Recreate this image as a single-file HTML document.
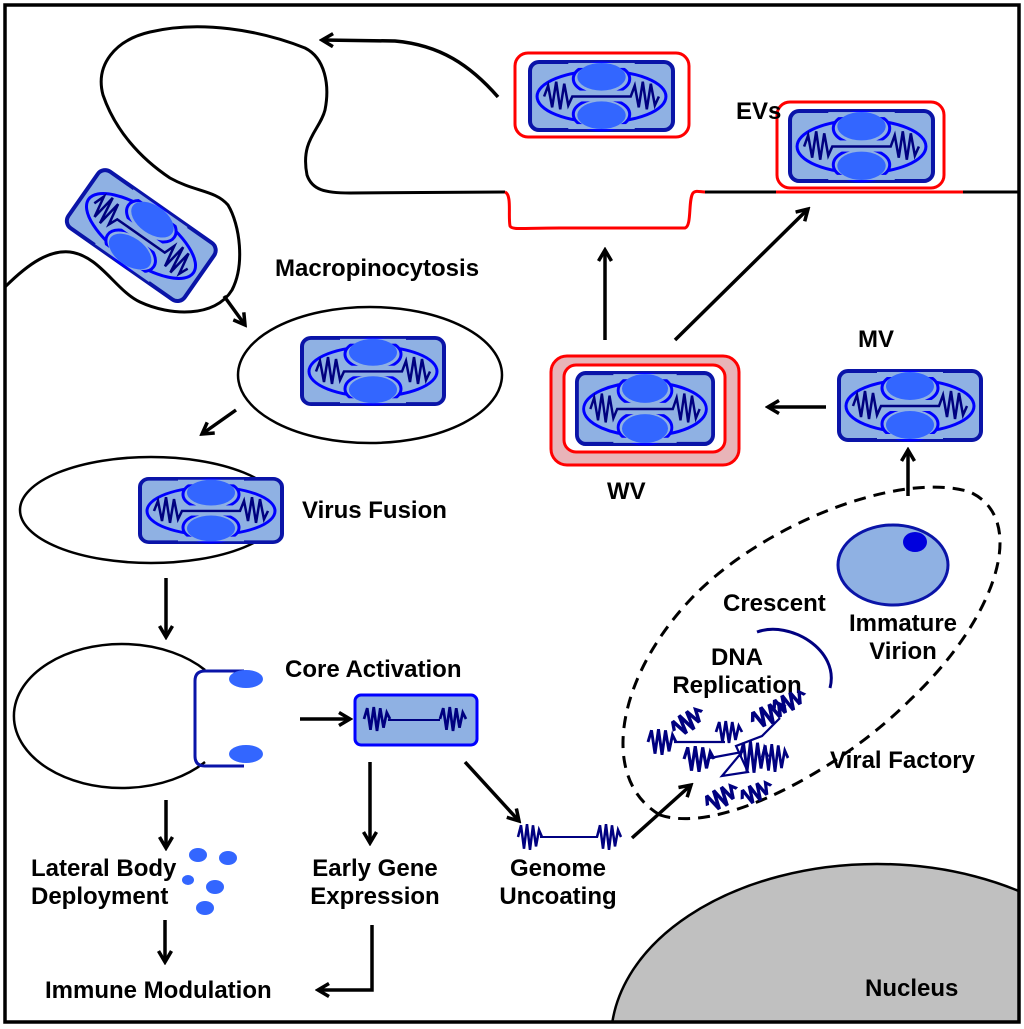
<!DOCTYPE html>
<html><head><meta charset="utf-8"><style>
html,body{margin:0;padding:0;background:#fff;overflow:hidden;width:1024px;height:1029px}
svg{display:block;overflow:hidden;max-height:1029px}
text{font-family:"Liberation Sans",Arial,sans-serif;font-weight:bold;font-size:24px;fill:#000}
</style></head><body>
<svg width="1024" height="1029" viewBox="0 0 1024 1029" xmlns="http://www.w3.org/2000/svg">
<defs>
<marker id="ah" viewBox="0 0 16 16" refX="13" refY="8" markerWidth="16" markerHeight="16" markerUnits="userSpaceOnUse" orient="auto">
<path d="M2,1.5 L13,8 L2,14.5" fill="none" stroke="#000" stroke-width="3.5"/>
</marker>
<clipPath id="fr"><rect x="5" y="5" width="1014" height="1017"/></clipPath>
<symbol id="v" viewBox="0 0 146 73" preserveAspectRatio="none" overflow="visible">
<rect x="2" y="2" width="142" height="69" rx="9" fill="#8fb1e3" stroke="#0a14a8" stroke-width="4"/>
<ellipse cx="73" cy="37" rx="64" ry="26" fill="none" stroke="#0000ff" stroke-width="3"/>
<ellipse cx="73" cy="19" rx="28" ry="16" fill="#8fb1e3" stroke="#0000ff" stroke-width="3"/>
<ellipse cx="73" cy="55" rx="28" ry="16" fill="#8fb1e3" stroke="#0000ff" stroke-width="3"/>
<rect x="38" y="31" width="70" height="11" fill="#8fb1e3"/>
<rect x="40" y="3" width="66" height="5" fill="#8fb1e3"/>
<rect x="40" y="65" width="66" height="5" fill="#8fb1e3"/>
<ellipse cx="73" cy="17" rx="24" ry="14" fill="#3366ff"/>
<ellipse cx="73" cy="56" rx="24" ry="14" fill="#3366ff"/>
<path d="M16,37 L20,26 L24,48 L28,22 L32,50 L36,24 L40,46 L44,37 L102,37 L106,26 L110,48 L114,22 L118,50 L122,24 L126,46 L130,37" fill="none" stroke="#000080" stroke-width="2.5"/>
</symbol>
<symbol id="z" viewBox="0 0 24 24" preserveAspectRatio="none" overflow="visible">
<path d="M0,12 L3,2 L6,22 L9,1 L12,23 L15,2 L18,20 L21,6 L24,12" fill="none" stroke="#000080" stroke-width="2.5"/>
</symbol>
</defs>

<g clip-path="url(#fr)">
<ellipse cx="877" cy="1040" rx="266" ry="176" fill="#c0c0c0" stroke="#000" stroke-width="2.5"/>
</g>
<rect x="5" y="5" width="1014" height="1017" fill="none" stroke="#000" stroke-width="3.5"/>
<text x="865" y="996">Nucleus</text>

<path d="M5,287 C30,262 50,250 70,252 C100,256 115,290 140,302 C170,316 215,318 232,290 C245,265 240,225 228,205 C215,190 195,192 170,178 C140,158 115,130 103,95 C95,65 115,40 150,32 C200,20 260,30 305,48 C325,58 330,85 325,110 C320,130 300,140 307,175 C312,190 325,193 350,193 L505,192" fill="none" stroke="#000" stroke-width="3"/>
<path d="M505,192 C512,195 508,215 510,226 C512,230 520,228 560,228 L685,228 C692,226 688,200 693,193 C696,190 700,192 705,192" fill="none" stroke="#f00" stroke-width="3"/>
<line x1="705" y1="192" x2="776" y2="192" stroke="#000" stroke-width="3"/>
<line x1="776" y1="192" x2="963" y2="192" stroke="#f00" stroke-width="3"/>
<line x1="963" y1="192" x2="1019" y2="192" stroke="#000" stroke-width="3"/>

<rect x="515" y="53" width="174" height="84" rx="13" fill="#fff" stroke="#f00" stroke-width="3"/>
<use href="#v" x="528" y="60" width="147" height="72"/>
<rect x="777" y="102" width="167" height="86" rx="13" fill="#fff" stroke="#f00" stroke-width="3"/>
<use href="#v" x="788" y="109" width="147" height="74"/>
<text x="736" y="119">EVs</text>
<path d="M498,97 C470,65 440,45 395,41 L322,40" fill="none" stroke="#000" stroke-width="3.5" marker-end="url(#ah)"/>

<g transform="translate(141,236) rotate(35)"><use href="#v" x="-73" y="-37" width="146" height="73"/></g>

<text x="275" y="276">Macropinocytosis</text>
<line x1="224" y1="296" x2="245" y2="325" stroke="#000" stroke-width="3.5" marker-end="url(#ah)"/>
<ellipse cx="370" cy="375" rx="132" ry="68" fill="#fff" stroke="#000" stroke-width="2.5"/>
<use href="#v" x="300" y="336" width="146" height="70"/>

<line x1="236" y1="410" x2="202" y2="434" stroke="#000" stroke-width="3.5" marker-end="url(#ah)"/>
<ellipse cx="151" cy="510" rx="131" ry="53" fill="#fff" stroke="#000" stroke-width="2.5"/>
<use href="#v" x="138" y="477" width="146" height="67"/>
<text x="302" y="518">Virus Fusion</text>

<line x1="166" y1="578" x2="166" y2="637" stroke="#000" stroke-width="3.5" marker-end="url(#ah)"/>
<path d="M205,670 A108,72 0 1 0 205,762" fill="none" stroke="#000" stroke-width="2.5"/>
<path d="M244,671 L205,671 Q195,671 195,681 L195,756 Q195,766 205,766 L244,766" fill="none" stroke="#0a14a8" stroke-width="3"/>
<ellipse cx="246" cy="679" rx="17" ry="9" fill="#3366ff"/>
<ellipse cx="246" cy="754" rx="17" ry="9" fill="#3366ff"/>
<text x="285" y="677">Core Activation</text>
<line x1="300" y1="719" x2="350" y2="719" stroke="#000" stroke-width="3.5" marker-end="url(#ah)"/>
<rect x="355" y="695" width="122" height="50" rx="6" fill="#8fb1e3" stroke="#0000ff" stroke-width="3"/>
<use href="#z" x="364" y="706" width="26" height="26"/>
<line x1="388" y1="720" x2="440" y2="720" stroke="#000080" stroke-width="2"/>
<use href="#z" x="440" y="706" width="26" height="26"/>

<line x1="166" y1="800" x2="166" y2="848" stroke="#000" stroke-width="3.5" marker-end="url(#ah)"/>
<line x1="370" y1="762" x2="370" y2="843" stroke="#000" stroke-width="3.5" marker-end="url(#ah)"/>
<line x1="465" y1="762" x2="519" y2="821" stroke="#000" stroke-width="3.5" marker-end="url(#ah)"/>

<ellipse cx="198" cy="855" rx="9" ry="7" fill="#3366ff"/>
<ellipse cx="228" cy="858" rx="9" ry="7" fill="#3366ff"/>
<ellipse cx="188" cy="880" rx="6" ry="5" fill="#3366ff"/>
<ellipse cx="215" cy="887" rx="9" ry="7" fill="#3366ff"/>
<ellipse cx="205" cy="908" rx="9" ry="7" fill="#3366ff"/>

<text x="31" y="876">Lateral Body</text>
<text x="31" y="904">Deployment</text>
<text x="375" y="876" text-anchor="middle">Early Gene</text>
<text x="375" y="904" text-anchor="middle">Expression</text>
<text x="558" y="876" text-anchor="middle">Genome</text>
<text x="558" y="904" text-anchor="middle">Uncoating</text>

<use href="#z" x="518" y="823" width="24" height="28"/>
<line x1="540" y1="837" x2="598" y2="837" stroke="#000080" stroke-width="2"/>
<use href="#z" x="597" y="823" width="24" height="28"/>

<line x1="165" y1="920" x2="165" y2="962" stroke="#000" stroke-width="3.5" marker-end="url(#ah)"/>
<text x="45" y="998">Immune Modulation</text>
<path d="M372,925 L372,990 L318,990" fill="none" stroke="#000" stroke-width="3.5" marker-end="url(#ah)"/>

<path d="M660,815 C600,780 615,680 690,600 C760,525 900,470 970,492 C1030,520 995,620 910,700 C840,770 720,835 660,815 Z" fill="none" stroke="#000" stroke-width="3" stroke-dasharray="12,8"/>
<line x1="632" y1="838" x2="691" y2="785" stroke="#000" stroke-width="3.5" marker-end="url(#ah)"/>
<text x="723" y="611">Crescent</text>
<path d="M757,632 C790,620 840,650 830,688" fill="none" stroke="#000080" stroke-width="3"/>
<text x="737" y="665" text-anchor="middle">DNA</text>
<text x="737" y="693" text-anchor="middle">Replication</text>
<text x="830" y="768">Viral Factory</text>
<ellipse cx="893" cy="565" rx="55" ry="40" fill="#8fb1e3" stroke="#0a14a8" stroke-width="3"/>
<ellipse cx="915" cy="542" rx="12" ry="10" fill="#0000dd"/>
<text x="903" y="631" text-anchor="middle">Immature</text>
<text x="903" y="659" text-anchor="middle">Virion</text>

<g stroke="#000080" stroke-width="2.2" fill="none">
<use href="#z" x="648" y="728" width="28" height="28"/>
<line x1="674" y1="742" x2="725" y2="742"/>
<g transform="translate(668,722) rotate(-35)"><use href="#z" x="0" y="0" width="34" height="22"/></g>
<use href="#z" x="684" y="745" width="30" height="28"/>
<path d="M710,758 L742,752 L722,776 L748,772 L736,746 L762,736 L780,718"/>
<g transform="translate(748,712) rotate(-25)"><use href="#z" x="0" y="0" width="36" height="22"/></g>
<g transform="translate(770,700) rotate(-25)"><use href="#z" x="0" y="0" width="34" height="20"/></g>
<use href="#z" x="740" y="740" width="28" height="34"/>
<use href="#z" x="762" y="743" width="26" height="30"/>
<g transform="translate(702,796) rotate(-30)"><use href="#z" x="0" y="0" width="34" height="22"/></g>
<g transform="translate(738,790) rotate(-25)"><use href="#z" x="0" y="0" width="32" height="20"/></g>
<use href="#z" x="716" y="720" width="26" height="24"/>
</g>

<line x1="908" y1="496" x2="908" y2="450" stroke="#000" stroke-width="3.5" marker-end="url(#ah)"/>
<text x="858" y="347">MV</text>
<use href="#v" x="837" y="369" width="146" height="73"/>
<line x1="826" y1="407" x2="768" y2="407" stroke="#000" stroke-width="3.5" marker-end="url(#ah)"/>
<rect x="551" y="356" width="188" height="109" rx="16" fill="#e8b4b8" stroke="#f00" stroke-width="3"/>
<rect x="564" y="365" width="161" height="87" rx="12" fill="#fff" stroke="#f00" stroke-width="3"/>
<use href="#v" x="575" y="371" width="140" height="75"/>
<text x="607" y="499">WV</text>
<line x1="605" y1="340" x2="605" y2="250" stroke="#000" stroke-width="3.5" marker-end="url(#ah)"/>
<line x1="675" y1="340" x2="808" y2="209" stroke="#000" stroke-width="3.5" marker-end="url(#ah)"/>
</svg>
</body></html>
